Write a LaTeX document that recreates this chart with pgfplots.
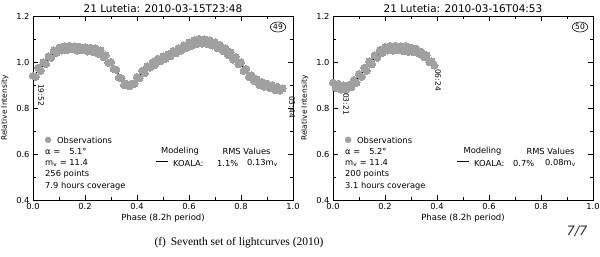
\documentclass[border=0pt]{standalone}
\usepackage{fontspec}
\setmainfont{DejaVu Sans}
\newfontfamily\capfont{Liberation Serif}
\usepackage{pgfplots}
\pgfplotsset{compat=1.18}
\usetikzlibrary{shapes.geometric}
\definecolor{obs}{RGB}{160,160,160}

\pgfplotstableread{
x y
0.000 0.940
0.010 0.935
0.020 0.975
0.030 0.962
0.040 0.998
0.050 0.992
0.060 1.025
0.070 1.018
0.080 1.050
0.090 1.040
0.100 1.062
0.110 1.050
0.120 1.068
0.130 1.052
0.140 1.070
0.150 1.055
0.160 1.068
0.170 1.050
0.180 1.066
0.190 1.052
0.200 1.064
0.210 1.046
0.220 1.062
0.230 1.044
0.240 1.060
0.250 1.036
0.260 1.050
0.270 1.022
0.280 1.030
0.290 0.996
0.300 1.000
0.310 0.970
0.320 0.966
0.330 0.932
0.340 0.930
0.350 0.900
0.360 0.905
0.370 0.895
0.380 0.905
0.390 0.905
0.400 0.935
0.410 0.930
0.420 0.962
0.430 0.952
0.440 0.982
0.450 0.975
0.460 1.000
0.470 0.988
0.480 1.014
0.490 1.003
0.500 1.024
0.510 1.014
0.520 1.034
0.530 1.026
0.540 1.048
0.550 1.038
0.560 1.060
0.570 1.050
0.580 1.073
0.590 1.062
0.600 1.085
0.610 1.070
0.620 1.095
0.630 1.078
0.640 1.100
0.650 1.080
0.660 1.098
0.670 1.078
0.680 1.094
0.690 1.072
0.700 1.086
0.710 1.060
0.720 1.074
0.730 1.048
0.740 1.060
0.750 1.030
0.760 1.042
0.770 1.010
0.780 1.022
0.790 0.990
0.800 0.998
0.810 0.962
0.820 0.970
0.830 0.935
0.840 0.942
0.850 0.918
0.860 0.925
0.870 0.900
0.880 0.913
0.890 0.893
0.900 0.906
0.910 0.888
0.920 0.898
0.930 0.878
0.940 0.893
0.950 0.876
0.960 0.885
}\obsA

\pgfplotstableread{
x y
0.00 0.935
0.02 0.962
0.04 0.987
0.06 1.015
0.08 1.040
0.10 1.053
0.12 1.058
0.14 1.060
0.16 1.059
0.18 1.058
0.20 1.056
0.22 1.054
0.24 1.050
0.26 1.040
0.28 1.020
0.30 0.993
0.32 0.962
0.34 0.928
0.355 0.912
0.37 0.910
0.385 0.917
0.40 0.932
0.42 0.952
0.44 0.972
0.46 0.990
0.48 1.004
0.50 1.015
0.52 1.026
0.54 1.038
0.56 1.050
0.58 1.062
0.60 1.073
0.62 1.082
0.64 1.088
0.66 1.089
0.68 1.086
0.70 1.078
0.72 1.066
0.74 1.052
0.76 1.034
0.78 1.014
0.80 0.990
0.82 0.962
0.84 0.935
0.86 0.915
0.88 0.905
0.90 0.898
0.92 0.892
0.94 0.886
0.955 0.883
}\modA

\pgfplotstableread{
x y
0.000 0.910
0.010 0.888
0.020 0.905
0.030 0.880
0.040 0.898
0.050 0.878
0.060 0.900
0.070 0.890
0.080 0.922
0.090 0.910
0.100 0.948
0.110 0.935
0.120 0.975
0.130 0.962
0.140 1.002
0.150 0.990
0.160 1.030
0.170 1.018
0.180 1.052
0.190 1.040
0.200 1.065
0.210 1.050
0.220 1.070
0.230 1.050
0.240 1.070
0.250 1.052
0.260 1.068
0.270 1.048
0.280 1.070
0.290 1.044
0.300 1.062
0.310 1.042
0.320 1.058
0.330 1.036
0.340 1.044
0.350 1.022
0.360 1.030
0.370 1.000
0.380 1.002
0.390 0.985
}\obsB

\pgfplotstableread{
x y
0.00 0.897
0.02 0.893
0.04 0.888
0.06 0.890
0.08 0.910
0.10 0.935
0.12 0.962
0.14 0.990
0.16 1.018
0.18 1.040
0.20 1.052
0.22 1.057
0.24 1.059
0.26 1.058
0.28 1.057
0.30 1.055
0.32 1.050
0.34 1.038
0.36 1.022
0.38 0.995
}\modB

\pgfplotsset{lc/.style={
  scale only axis, width=260pt, height=184pt, anchor=south west,
  xmin=0, xmax=1, ymin=0.4, ymax=1.2,
  xtick={0,0.2,0.4,0.6,0.8,1.0}, ytick={0.4,0.6,0.8,1.0,1.2},
  minor x tick num=1, minor y tick num=1,
  tick align=inside, major tick length=5pt, minor tick length=3pt,
  /pgf/number format/assume math mode=true,
  /pgf/number format/.cd, fixed, fixed zerofill, precision=1, /pgfplots/.cd,
  tick label style={font=\fontsize{8.3}{9}\selectfont},
  axis line style={line width=0.9pt},
  every tick/.style={black, line width=0.8pt},
  title style={font=\fontsize{10.5}{12}\selectfont, at={(axis description cs:0.5,1.0217)}, anchor=base, yshift=-6pt},
  xlabel={Phase (8.2h period)}, ylabel={Relative Intensity},
  xlabel style={font=\fontsize{8.5}{10}\selectfont, at={(axis description cs:0.5,-0.1)}, anchor=center},
  ylabel style={font=\fontsize{7.5}{9}\selectfont, at={(axis description cs:-0.108,0.5)}, anchor=center},
  clip=false,
}}

\begin{document}
\begin{tikzpicture}
\useasboundingbox (0pt,0pt) rectangle (600pt,-257pt);

\begin{axis}[lc, at={(33pt,-200pt)}, title={21 Lutetia: 2010-03-15T23:48}]
\addplot[obs, only marks, mark=*, mark size=3.6pt, mark options={fill=obs, draw=obs, line width=0pt}] table[x=x,y=y] {\obsA};
\addplot[black, line width=1.1pt, smooth] table[x=x,y=y] {\modA};
\end{axis}

\begin{axis}[lc, at={(333pt,-200pt)}, title={21 Lutetia: 2010-03-16T04:53}]
\addplot[obs, only marks, mark=*, mark size=3.6pt, mark options={fill=obs, draw=obs, line width=0pt}] table[x=x,y=y] {\obsB};
\addplot[black, line width=1.1pt, smooth] table[x=x,y=y] {\modB};
\end{axis}

\tikzset{lab/.style={font=\fontsize{7.5}{8}\selectfont, inner sep=0pt}, txt/.style={font=\fontsize{8.3}{9}\selectfont, inner sep=0pt, anchor=west}}

% circled numbers
\node[draw, ellipse, inner sep=0.7pt, line width=0.6pt, font=\fontsize{7.5}{8}\selectfont] at (278pt,-27pt) {49};
\node[draw, ellipse, inner sep=0.7pt, line width=0.6pt, font=\fontsize{7.5}{8}\selectfont] at (580pt,-27pt) {50};

% time labels
\node[lab, rotate=-90] at (41pt,-95pt) {19:52};
\node[lab, rotate=-90] at (292pt,-107pt) {03:44};
\node[lab, rotate=-90] at (346pt,-104pt) {03:21};
\node[lab, rotate=-90] at (438pt,-80pt) {06:24};

% left legend block
\node[txt] at (44.5pt,-140pt) {\textcolor{obs}{●}};
\node[txt] at (57pt,-140pt) {Observations};
\node[txt] at (45pt,-151.5pt) {α =\hspace{9pt}5.1°};
\node[txt] at (45pt,-163pt) {m\textsubscript{v} = 11.4};
\node[txt] at (45pt,-174pt) {256 points};
\node[txt] at (45pt,-186pt) {7.9 hours coverage};
\node[txt, anchor=center] at (180pt,-151.5pt) {Modeling};
\node[txt, anchor=center] at (246.5pt,-151.5pt) {RMS Values};
\node[txt] at (156pt,-163pt) {\rule[2.6pt]{12pt}{1pt}};
\node[txt] at (173pt,-163pt) {KOALA:};
\node[txt] at (217pt,-163pt) {1.1\%};
\node[txt] at (247pt,-163pt) {0.13m\textsubscript{v}};

% right legend block
\node[txt] at (344.5pt,-140pt) {\textcolor{obs}{●}};
\node[txt] at (357pt,-140pt) {Observations};
\node[txt] at (345pt,-151.5pt) {α =\hspace{9pt}5.2°};
\node[txt] at (345pt,-163pt) {m\textsubscript{v} = 11.4};
\node[txt] at (345pt,-174pt) {200 points};
\node[txt] at (345pt,-186pt) {3.1 hours coverage};
\node[txt, anchor=center] at (482.5pt,-151.5pt) {Modeling};
\node[txt, anchor=center] at (550.5pt,-151.5pt) {RMS Values};
\node[txt] at (457pt,-163pt) {\rule[2.6pt]{12pt}{1pt}};
\node[txt] at (474pt,-163pt) {KOALA:};
\node[txt] at (513pt,-163pt) {0.7\%};
\node[txt] at (545pt,-163pt) {0.08m\textsubscript{v}};

% caption and page number
\node[font=\capfont\fontsize{11.5}{13}\selectfont] at (239pt,-243pt) {(f)\, Seventh set of lightcurves (2010)};
\node[font=\itshape\fontsize{13}{14}\selectfont, text=black!80] at (577pt,-231pt) {7/7};
\end{tikzpicture}
\end{document}
